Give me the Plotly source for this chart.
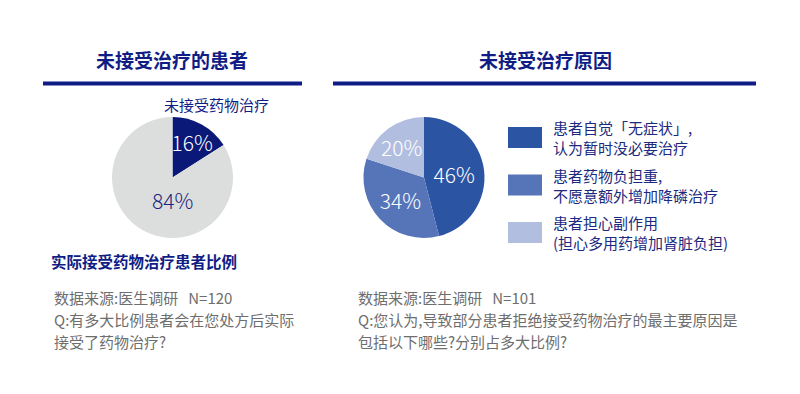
import plotly.graph_objects as go

FONT = "Noto Sans CJK SC"
NAVY = "#0f1d85"
TXT = "#1b2a7e"
GRAY = "#6e6e6e"

# Left chart data
left_labels = ["未接受药物治疗", "实际接受药物治疗患者比例"]
left_values = [16, 84]
left_colors = ["#0a1878", "#dcdddd"]

# Right chart data
right_labels = ["患者自觉「无症状」,<br>认为暂时没必要治疗",
                "患者药物负担重,<br>不愿意额外增加降磷治疗",
                "患者担心副作用<br>(担心多用药增加肾脏负担)"]
right_values = [46, 34, 20]
right_colors = ["#2b54a3", "#5675b9", "#b1bee0"]

titles = ["未接受治疗的患者", "未接受治疗原因"]
footer_left = ["数据来源:医生调研   N=120", "Q:有多大比例患者会在您处方后实际", "接受了药物治疗?"]
footer_right = ["数据来源:医生调研   N=101", "Q:您认为,导致部分患者拒绝接受药物治疗的最主要原因是", "包括以下哪些?分别占多大比例?"]

W, H = 800, 394
OFF = 8  # page body margin
def px(x): return (x - OFF) / W
def py(y): return 1 - (y - OFF) / H

fig = go.Figure()
fig.add_trace(go.Pie(
    labels=left_labels, values=left_values, sort=False, direction="clockwise",
    marker=dict(colors=left_colors, line=dict(width=0)),
    texttemplate=["%{value}%", ""], textposition="inside", insidetextorientation="horizontal",
    insidetextfont=dict(color="#ffffff", size=21, family=FONT, weight=300),
    domain=dict(x=[px(112), px(233)], y=[py(238), py(117)]), hoverinfo="skip", showlegend=False,
))
fig.add_trace(go.Pie(
    labels=right_labels, values=right_values, sort=False, direction="clockwise",
    marker=dict(colors=right_colors, line=dict(width=0)),
    texttemplate="%{value}%", textposition="inside", insidetextorientation="horizontal",
    insidetextfont=dict(color="#ffffff", size=21, family=FONT, weight=300),
    domain=dict(x=[px(363), px(485)], y=[py(238), py(117)]), hoverinfo="skip", showlegend=False,
))

ann = []
shapes = []
# Titles and rules
ann.append(dict(x=px(172), y=py(60), text="<b>" + titles[0] + "</b>", font=dict(size=19, color=NAVY, family=FONT)))
ann.append(dict(x=px(545), y=py(60), text="<b>" + titles[1] + "</b>", font=dict(size=19, color=NAVY, family=FONT)))
shapes.append(dict(type="line", xref="paper", yref="paper", x0=px(43), x1=px(302), y0=py(83.5), y1=py(83.5), line=dict(color=NAVY, width=4)))
shapes.append(dict(type="line", xref="paper", yref="paper", x0=px(333), x1=px(756), y0=py(83.5), y1=py(83.5), line=dict(color=NAVY, width=4)))

# Left pie category labels and big-slice value
ann.append(dict(x=px(162), y=py(104), text=left_labels[0], xanchor="left", font=dict(size=15, color=NAVY, family=FONT)))
ann.append(dict(x=px(49), y=py(261), text="<b>" + left_labels[1] + "</b>", xanchor="left", font=dict(size=15.5, color=NAVY, family=FONT)))
ann.append(dict(x=px(172.5), y=py(200), text=f"{left_values[1]}%", font=dict(size=21, color="#1a2580", family=FONT, weight=300)))

# Right custom legend
leg_y = [137.5, 185, 232.5]
for lab, col, yc in zip(right_labels, right_colors, leg_y):
    shapes.append(dict(type="rect", xref="paper", yref="paper", x0=px(508), x1=px(542), y0=py(yc + 10.5), y1=py(yc - 10.5),
                       fillcolor=col, line=dict(width=0)))
    ann.append(dict(x=px(551), y=py(yc), text=lab, xanchor="left", align="left",
                    font=dict(size=15, color=TXT, family=FONT)))

# Footers
for i, (a, b) in enumerate(zip(footer_left, footer_right)):
    yy = 297 + i * 22
    ann.append(dict(x=px(52), y=py(yy), text=a, xanchor="left", font=dict(size=15, color=GRAY, family=FONT)))
    ann.append(dict(x=px(356), y=py(yy), text=b, xanchor="left", font=dict(size=15, color=GRAY, family=FONT)))

for a in ann:
    a.setdefault("xref", "paper")
    a.setdefault("yref", "paper")
    a.setdefault("showarrow", False)
    a.setdefault("xanchor", "center")
    a.setdefault("yanchor", "middle")

fig.update_layout(
    width=W, height=H, margin=dict(l=0, r=0, t=0, b=0),
    paper_bgcolor="#ffffff", plot_bgcolor="#ffffff",
    annotations=ann, shapes=shapes, font=dict(family=FONT),
    uniformtext=dict(minsize=21, mode="show"),
)
fig.write_html("out.html")
